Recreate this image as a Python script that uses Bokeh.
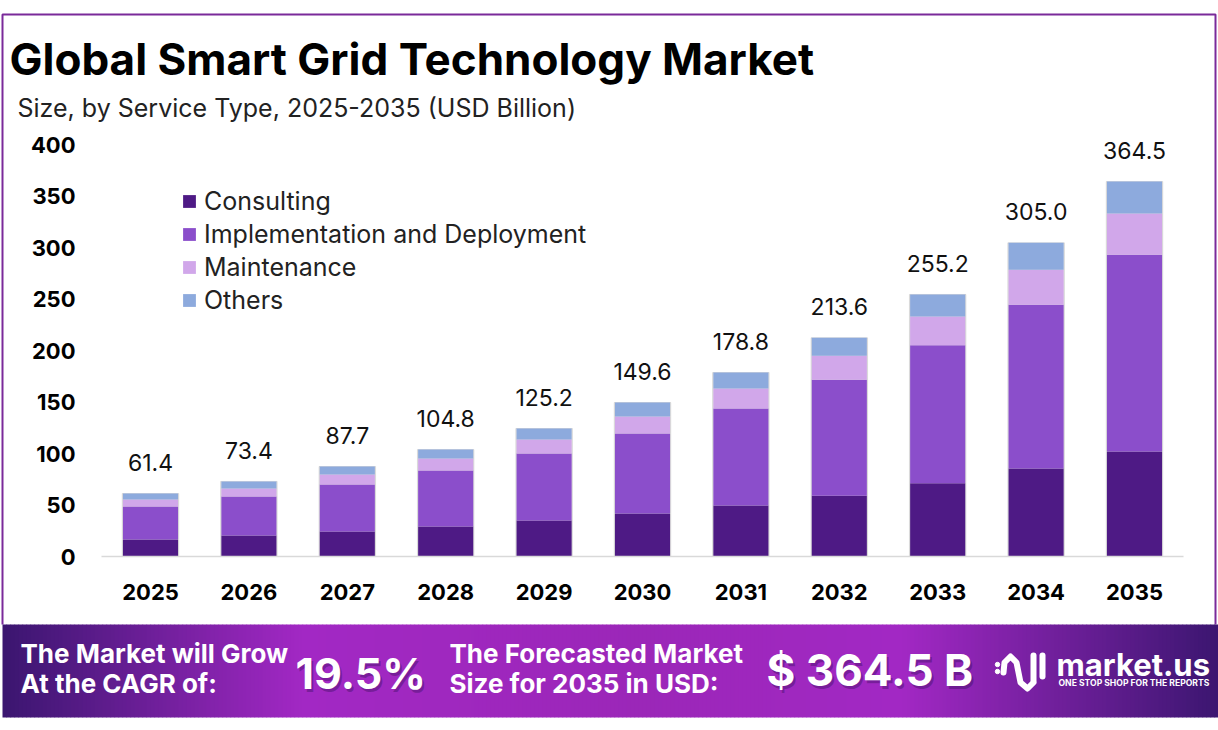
from bokeh.plotting import figure
from bokeh.core.properties import value
from bokeh.models import ColumnDataSource, Range1d, Legend, LegendItem, PrintfTickFormatter
from bokeh.embed import file_html
from bokeh.resources import INLINE

years = [2025,2026,2027,2028,2029,2030,2031,2032,2033,2034,2035]
consulting = [16.5,20.4,24.3,29.1,35.0,41.7,49.5,59.0,71.0,85.4,102.0]
implementation = [32.0,37.9,45.6,54.4,65.0,77.7,94.2,112.6,134.0,159.0,191.0]
maintenance = [6.8,7.8,9.7,11.6,13.6,16.5,19.4,23.3,28.0,34.0,40.0]
others = [5.8,6.8,7.8,8.7,10.7,13.6,15.5,17.5,21.4,26.2,31.0]
totals = ["61.4","73.4","87.7","104.8","125.2","149.6","178.8","213.6","255.2","305.0","364.5"]
series_names = ["Consulting","Implementation and Deployment","Maintenance","Others"]
series_colors = ["#4e1a85","#8b4ecb","#d1a7ea","#8daadd"]
yticks = [0,50,100,150,200,250,300,350,400]

FONT = "Inter"
W, H = 1218, 730
PXX, PXY = 98.4, 1.03      # pixels per year, pixels per USD billion
x0 = 2025 - 150/PXX
y0 = -(H-556)/PXY
stack_top = [a+b+c+d for a,b,c,d in zip(consulting,implementation,maintenance,others)]
src = ColumnDataSource(dict(year=years, Consulting=consulting, Impl=implementation, Maint=maintenance,
                            Others=others, top=stack_top, total=totals))

p = figure(width=W, height=H, x_range=Range1d(x0, x0+W/PXX), y_range=Range1d(y0, y0+H/PXY),
           output_backend="svg", toolbar_location=None, min_border=0)
p.extra_x_ranges = {"px": Range1d(0, W)}
p.extra_y_ranges = {"px": Range1d(H, 0)}
p.outline_line_color = None
p.grid.grid_line_color = None

# soft bar shadow
p.vbar(x="year", top="top", width=0.575, color="#000000", alpha=0.10, source=src)
rs = p.vbar_stack(["Consulting","Impl","Maint","Others"], x="year", width=0.56, color=series_colors,
                  line_color=None, source=src)
p.text(x="year", y="top", text="total", source=src, y_offset=-31, text_align="center", text_baseline="middle",
       text_font=value(FONT), text_font_size="23px", text_color="#111111")

leg = Legend(items=[LegendItem(label=n, renderers=[r]) for n, r in zip(series_names, rs)],
             location=(181, 415), border_line_color=None, background_fill_alpha=0, padding=0, margin=0,
             glyph_width=16, glyph_height=16, label_height=24, spacing=3, label_standoff=7,
             label_text_font=FONT, label_text_font_size="25px", label_text_color="#222222")
p.add_layout(leg, "center")

axis_x = 2025 - (150-101)/PXX
p.yaxis.fixed_location = axis_x
p.yaxis.ticker = yticks
p.yaxis.axis_line_color = None
p.yaxis.major_tick_line_color = None
p.yaxis.minor_tick_line_color = None
p.yaxis.major_label_standoff = 20
p.yaxis.major_label_text_font = FONT
p.yaxis.major_label_text_font_style = "bold"
p.yaxis.major_label_text_font_size = "22px"
p.yaxis.major_label_text_color = "#000000"
p.xaxis.fixed_location = 0
p.xaxis.bounds = (axis_x, axis_x + 11)
p.xaxis.ticker = years
p.xaxis.formatter = PrintfTickFormatter(format="%d")
p.xaxis.axis_line_color = "#d9d9d9"
p.xaxis.axis_line_width = 1.5
p.xaxis.major_tick_line_color = None
p.xaxis.minor_tick_line_color = None
p.xaxis.major_label_standoff = 21
p.xaxis.major_label_text_font = FONT
p.xaxis.major_label_text_font_style = "bold"
p.xaxis.major_label_text_font_size = "22px"
p.xaxis.major_label_text_color = "#000000"

def px_text(text, x, y, size, style="normal", color="#000000", alpha=1.0):
    p.text(x=[x], y=[y], text=[text], x_range_name="px", y_range_name="px", text_font=value(FONT),
           text_font_size=size, text_font_style=style, text_color=color, text_alpha=alpha, text_baseline="middle")

px_text("Global Smart Grid Technology Market", 9, 58, "44px", "bold")
px_text("Size, by Service Type, 2025-2035 (USD Billion)", 17, 107, "25px", "normal", "#222222")

# purple frame
p.line(x=[2,2,1215,1215], y=[624,14,14,624], x_range_name="px", y_range_name="px", line_color="#7a2a9a", line_width=2)

# banner
def lerp(c1, c2, t):
    return "#%02x%02x%02x" % tuple(round(a+(d-a)*t) for a, d in zip(c1, c2))
DARK, BRIGHT, MID = (0x3b,0x16,0x70), (0xa2,0x28,0xc4), (0x9b,0x27,0xb8)
stops = [(2,DARK),(300,BRIGHT),(640,MID),(900,BRIGHT),(1218,DARK)]
xl, xr, cols = [], [], []
for x in range(2, 1218, 4):
    for (xa,ca),(xb,cb) in zip(stops, stops[1:]):
        if xa <= x < xb:
            xl.append(x); xr.append(x+4.6); cols.append(lerp(ca,cb,(x-xa)/(xb-xa)))
p.quad(left=xl, right=xr, top=624, bottom=717, color=cols, line_color=None, x_range_name="px", y_range_name="px")

def bt(text, x, y, size, shadow=False):
    if shadow:
        px_text(text, x+2, y+3, size, "bold", "#2a0a50", 0.35)
    px_text(text, x, y, size, "bold", "#ffffff")

bt("The Market will Grow", 20, 653, "26px")
bt("At the CAGR of:", 20, 683, "26px")
bt("19.5%", 295, 672, "43px", True)
bt("The Forecasted Market", 449, 653, "26px")
bt("Size for 2035 in USD:", 449, 683, "26px")
bt("$ 364.5 B", 766, 669, "44px", True)
bt("market.us", 1056, 664, "31px")
bt("ONE STOP SHOP FOR THE REPORTS", 1058, 682, "8.6px")

# logo
p.circle(x=[997,997], y=[664,671], radius=2.2, color="#ffffff", x_range_name="px", y_range_name="px")
p.multi_line(xs=[[1003,1004,1010,1016,1018,1020,1027,1033],[1033,1033],[1042,1042]],
             ys=[[672,662,656,662,672,682,688,682],[655,680],[655,676]],
             line_color="#ffffff", line_width=6, line_cap="round", line_join="round",
             x_range_name="px", y_range_name="px")

open("out.html", "w").write(file_html(p, INLINE))
